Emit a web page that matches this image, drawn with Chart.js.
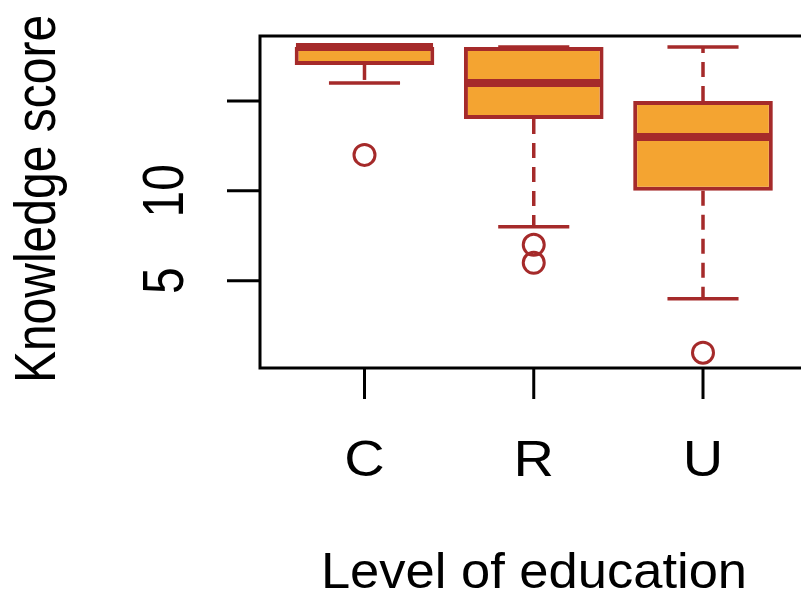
<!DOCTYPE html>
<html>
<head>
<meta charset="utf-8">
<script src="https://cdn.jsdelivr.net/npm/chart.js@4/dist/chart.umd.min.js"></script>
<style>
  html, body { margin: 0; padding: 0; background: #ffffff; overflow: hidden; }
  canvas { display: block; }
</style>
</head>
<body>
<canvas id="c" width="801" height="593"></canvas>
<script>
// ---- data ----
const categories   = ['C', 'R', 'U'];
const whiskerLow   = [16, 8, 4];
const q1           = [17, 14, 10];
const median       = [18, 16, 13];
const q3           = [18, 18, 15];
const whiskerHigh  = [18, 18, 18];
const outlierGroup = ['C', 'R', 'R', 'U'];
const outlierValue = [12, 7, 6, 1];
const yTicks       = [5, 10, 15];
const yTickLabels  = ['5', '10', ''];
const xTitle = 'Level of education';
const yTitle = 'Knowledge score';

// ---- styles ----
const FILL = '#F4A431';
const EDGE = '#A52A2A';
const FONT = '"Liberation Sans", Arial, Helvetica, sans-serif';

const boxData = categories.map((c, i) => ({ x: i + 1, y: [q1[i], q3[i]] }));
const outData = outlierGroup.map((g, i) => ({ x: categories.indexOf(g) + 1, y: outlierValue[i] }));

function drawText(ctx, txt, x, y, size, sx, sy, rot) {
  ctx.save();
  ctx.translate(x, y);
  if (rot) ctx.rotate(-Math.PI / 2);
  ctx.scale(sx, sy);
  ctx.font = size + 'px ' + FONT;
  ctx.fillStyle = '#000';
  ctx.textAlign = 'center';
  ctx.textBaseline = 'alphabetic';
  ctx.fillText(txt, 0, 0);
  ctx.restore();
}

const boxPlugin = {
  id: 'boxParts',
  beforeDatasetsDraw(chart) {
    const ctx = chart.ctx, xs = chart.scales.x, ys = chart.scales.y;
    ctx.save();
    ctx.strokeStyle = EDGE;
    categories.forEach((c, i) => {
      const x = xs.getPixelForValue(i + 1);
      ctx.lineWidth = 3.5;
      ctx.setLineDash([15, 9]);
      ctx.lineCap = 'butt';
      if (whiskerHigh[i] > q3[i]) {
        ctx.beginPath();
        ctx.moveTo(x, ys.getPixelForValue(q3[i]));
        ctx.lineTo(x, ys.getPixelForValue(whiskerHigh[i]));
        ctx.stroke();
      }
      if (whiskerLow[i] < q1[i]) {
        ctx.beginPath();
        ctx.moveTo(x, ys.getPixelForValue(q1[i]));
        ctx.lineTo(x, ys.getPixelForValue(whiskerLow[i]));
        ctx.stroke();
      }
      ctx.setLineDash([]);
      ctx.lineWidth = 3.5;
      const xl = xs.getPixelForValue(i + 1 - 0.21), xr = xs.getPixelForValue(i + 1 + 0.21);
      [whiskerHigh[i], whiskerLow[i]].forEach(v => {
        const y = ys.getPixelForValue(v);
        ctx.beginPath();
        ctx.moveTo(xl, y);
        ctx.lineTo(xr, y);
        ctx.stroke();
      });
    });
    ctx.restore();
  },
  afterDatasetsDraw(chart) {
    const ctx = chart.ctx, xs = chart.scales.x, ys = chart.scales.y;
    ctx.save();
    ctx.strokeStyle = EDGE;
    ctx.lineWidth = 8;
    ctx.lineCap = 'butt';
    categories.forEach((c, i) => {
      const xl = xs.getPixelForValue(i + 1 - 0.405), xr = xs.getPixelForValue(i + 1 + 0.405);
      const y = ys.getPixelForValue(median[i]);
      ctx.beginPath();
      ctx.moveTo(xl, y);
      ctx.lineTo(xr, y);
      ctx.stroke();
    });
    ctx.restore();
  },
  afterDraw(chart) {
    const ctx = chart.ctx, xs = chart.scales.x, ys = chart.scales.y;
    const a = chart.chartArea;
    ctx.save();
    ctx.strokeStyle = '#000';
    ctx.lineWidth = 3;
    ctx.lineCap = 'butt';
    const right = xs.getPixelForValue(3.62);
    ctx.strokeRect(a.left, a.top, right - a.left, a.bottom - a.top);
    categories.forEach((c, i) => {
      const x = xs.getPixelForValue(i + 1);
      ctx.beginPath();
      ctx.moveTo(x, a.bottom);
      ctx.lineTo(x, a.bottom + 31);
      ctx.stroke();
      drawText(ctx, c, x, 476, 50, 1.12, 1, false);
    });
    yTicks.forEach((v, i) => {
      const y = ys.getPixelForValue(v);
      ctx.beginPath();
      ctx.moveTo(a.left, y);
      ctx.lineTo(a.left - 33, y);
      ctx.stroke();
      if (yTickLabels[i]) drawText(ctx, yTickLabels[i], 183, y, 48, 1, 1.2, true);
    });
    drawText(ctx, xTitle, (a.left + right) / 2, 588, 50, 1.05, 1, false);
    drawText(ctx, yTitle, 55, (a.top + a.bottom) / 2 - 3, 48, 1, 1.2, true);
    ctx.restore();
  }
};

new Chart(document.getElementById('c'), {
  type: 'bar',
  data: {
    datasets: [
      {
        type: 'bar',
        data: boxData,
        backgroundColor: FILL,
        borderColor: EDGE,
        borderWidth: 4,
        borderSkipped: false,
        barPercentage: 0.825,
        categoryPercentage: 1.0,
        order: 2
      },
      {
        type: 'scatter',
        data: outData,
        pointStyle: 'circle',
        pointRadius: 10.5,
        pointBorderWidth: 3,
        pointBorderColor: EDGE,
        pointBackgroundColor: 'rgba(0,0,0,0)',
        showLine: false,
        order: 1
      }
    ]
  },
  options: {
    responsive: false,
    animation: false,
    events: [],
    layout: { autoPadding: false, padding: { left: 260, top: 36, right: 0, bottom: 225 } },
    plugins: { legend: { display: false }, tooltip: { enabled: false } },
    scales: {
      x: {
        type: 'linear', offset: false, min: 0.3826, max: 3.579, display: false,
        afterBuildTicks: (axis) => { axis.ticks = categories.map((c, i) => ({ value: i + 1 })); }
      },
      y: {
        type: 'linear', min: 0.15, max: 18.61, display: false,
        afterBuildTicks: (axis) => { axis.ticks = yTicks.map(v => ({ value: v })); }
      }
    }
  },
  plugins: [boxPlugin]
});
</script>
</body>
</html>
